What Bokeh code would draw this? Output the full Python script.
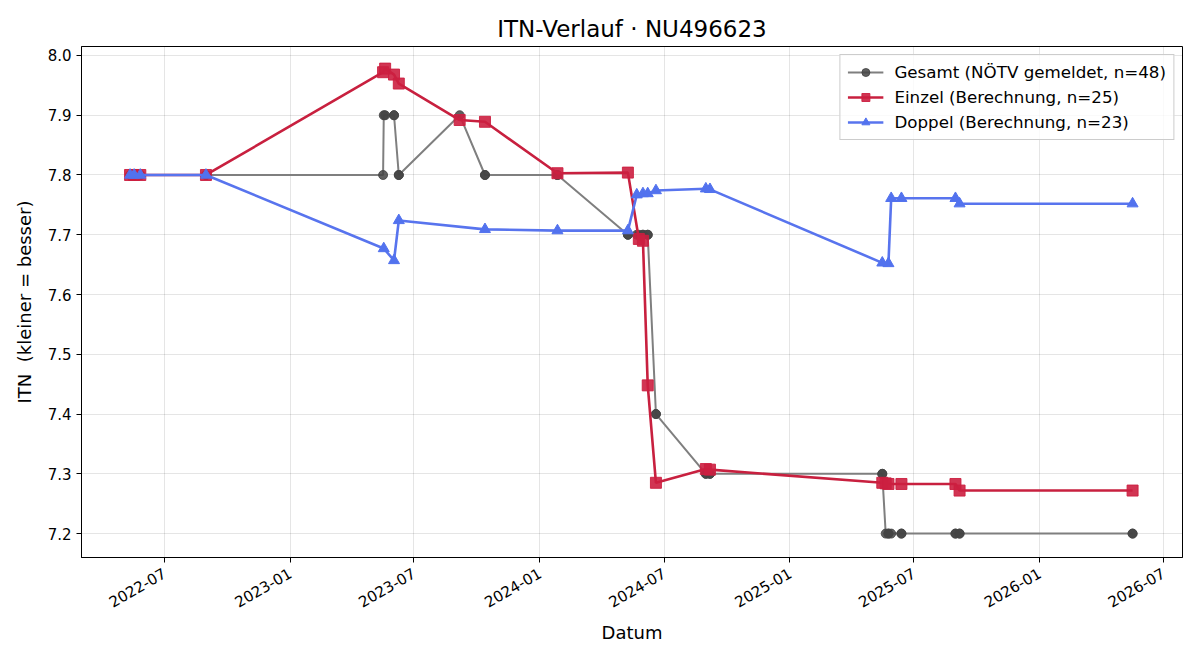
import math
import pandas as pd
from bokeh.plotting import figure
from bokeh.models import (ColumnDataSource, FixedTicker, DatetimeTickFormatter,
                          Range1d, NumeralTickFormatter)
from bokeh.embed import file_html
from bokeh.resources import INLINE

# --- Gesamt: reported ITN (NÖTV), one entry per match ---
gesamt_dates = [
    "2022-05-12", "2022-05-12", "2022-05-18", "2022-05-18", "2022-05-27", "2022-05-27",
    "2022-08-31", "2022-08-31", "2023-05-17", "2023-05-18", "2023-05-20",
    "2023-06-02", "2023-06-02", "2023-06-09", "2023-06-09", "2023-09-06",
    "2023-10-13", "2023-10-13", "2024-01-27", "2024-01-27", "2024-05-09", "2024-05-09",
    "2024-05-22", "2024-05-25", "2024-05-31", "2024-05-31", "2024-06-07", "2024-06-07",
    "2024-06-19", "2024-06-19", "2024-08-31", "2024-08-31", "2024-09-06", "2024-09-06",
    "2025-05-16", "2025-05-16", "2025-05-21", "2025-05-25", "2025-05-25", "2025-05-29",
    "2025-06-13", "2025-06-13", "2025-08-31", "2025-08-31", "2025-09-06", "2025-09-06",
    "2026-05-17", "2026-05-17",
]
gesamt_itn = [
    7.8, 7.8, 7.8, 7.8, 7.8, 7.8,
    7.8, 7.8, 7.8, 7.9, 7.9,
    7.9, 7.9, 7.8, 7.8, 7.9,
    7.8, 7.8, 7.8, 7.8, 7.7, 7.7,
    7.7, 7.7, 7.7, 7.7, 7.7, 7.7,
    7.4, 7.4, 7.3, 7.3, 7.3, 7.3,
    7.3, 7.3, 7.2, 7.2, 7.2, 7.2,
    7.2, 7.2, 7.2, 7.2, 7.2, 7.2,
    7.2, 7.2,
]

# --- Einzel: computed singles ITN ---
einzel_dates = [
    "2022-05-12", "2022-05-18", "2022-05-27", "2022-08-31",
    "2023-05-17", "2023-05-20", "2023-06-02", "2023-06-09",
    "2023-09-06", "2023-10-13", "2024-01-27", "2024-05-09",
    "2024-05-25", "2024-05-31", "2024-06-07", "2024-06-19",
    "2024-08-31", "2024-09-06", "2025-05-16", "2025-05-21",
    "2025-05-25", "2025-06-13", "2025-08-31", "2025-09-06",
    "2026-05-17",
]
einzel_itn = [
    7.800, 7.800, 7.800, 7.800,
    7.972, 7.978, 7.968, 7.953,
    7.892, 7.889, 7.803, 7.804,
    7.693, 7.690, 7.448, 7.285,
    7.308, 7.307, 7.285, 7.284,
    7.283, 7.283, 7.283, 7.272,
    7.272,
]

# --- Doppel: computed doubles ITN ---
doppel_dates = [
    "2022-05-12", "2022-05-18", "2022-05-27", "2022-08-31",
    "2023-05-18", "2023-06-02", "2023-06-09", "2023-10-13",
    "2024-01-27", "2024-05-09", "2024-05-22", "2024-05-31",
    "2024-06-07", "2024-06-19", "2024-08-31", "2024-09-06",
    "2025-05-16", "2025-05-25", "2025-05-29", "2025-06-13",
    "2025-08-31", "2025-09-06", "2026-05-17",
]
doppel_itn = [
    7.800, 7.800, 7.800, 7.800,
    7.677, 7.657, 7.724, 7.709,
    7.707, 7.707, 7.767, 7.769,
    7.769, 7.774, 7.777, 7.776,
    7.653, 7.652, 7.761, 7.761,
    7.761, 7.752, 7.752,
]

x_ticks = ["2022-07-01", "2023-01-01", "2023-07-01", "2024-01-01", "2024-07-01",
           "2025-01-01", "2025-07-01", "2026-01-01", "2026-07-01"]
y_ticks = [7.2, 7.3, 7.4, 7.5, 7.6, 7.7, 7.8, 7.9, 8.0]

FONT = "DejaVu Sans"


def ms(d):
    return pd.Timestamp(d).value / 1e6


src_g = ColumnDataSource(dict(x=pd.to_datetime(gesamt_dates), y=gesamt_itn))
src_e = ColumnDataSource(dict(x=pd.to_datetime(einzel_dates), y=einzel_itn))
src_d = ColumnDataSource(dict(x=pd.to_datetime(doppel_dates), y=doppel_itn))

p = figure(width=1200, height=660, output_backend="svg", toolbar_location=None,
           x_axis_type="datetime",
           x_range=Range1d(ms("2022-03-02"), ms("2026-07-29")),
           y_range=Range1d(7.160, 8.015),
           min_border_left=81, min_border_right=18, min_border_top=46,
           min_border_bottom=103)

p.title.text = "ITN-Verlauf · NU496623"
p.title.align = "center"
p.title.text_font = FONT
p.title.text_font_size = "23px"
p.title.text_font_style = "normal"
p.title.text_color = "#000000"

p.line("x", "y", source=src_g, color="#7f7f7f", line_width=2,
       legend_label="Gesamt (NÖTV gemeldet, n=48)")
p.scatter("x", "y", source=src_g, marker="circle", size=9,
          fill_color="#444444", line_color="#444444", fill_alpha=0.85, line_alpha=0.85,
          legend_label="Gesamt (NÖTV gemeldet, n=48)")

p.line("x", "y", source=src_e, color="#c8203f", line_width=2.6,
       legend_label="Einzel (Berechnung, n=25)")
p.scatter("x", "y", source=src_e, marker="square", size=11,
          fill_color="#cc1f40", line_color="#cc1f40", fill_alpha=0.9, line_alpha=0.9,
          legend_label="Einzel (Berechnung, n=25)")

p.line("x", "y", source=src_d, color="#5874ee", line_width=2.6,
       legend_label="Doppel (Berechnung, n=23)")
p.scatter("x", "y", source=src_d, marker="triangle", size=11,
          fill_color="#5272ee", line_color="#5272ee",
          legend_label="Doppel (Berechnung, n=23)")

# axes
p.xaxis.ticker = FixedTicker(ticks=[ms(t) for t in x_ticks])
p.xaxis.formatter = DatetimeTickFormatter(days="%Y-%m", months="%Y-%m", years="%Y-%m")
p.xaxis.major_label_orientation = math.pi / 6
p.yaxis.ticker = FixedTicker(ticks=y_ticks)
p.yaxis.formatter = NumeralTickFormatter(format="0.0")
p.xaxis.axis_label = "Datum"
p.yaxis.axis_label = "ITN\u00a0 (kleiner = besser)"

for ax in (p.xaxis, p.yaxis):
    ax.axis_label_text_font = FONT
    ax.axis_label_text_font_size = "18px"
    ax.axis_label_text_font_style = "normal"
    ax.axis_label_text_color = "#000000"
    ax.major_label_text_font = FONT
    ax.major_label_text_font_size = "15px"
    ax.major_label_text_color = "#000000"
    ax.axis_line_color = "#000000"
    ax.major_tick_line_color = "#000000"
    ax.major_tick_in = 0
    ax.major_tick_out = 5
    ax.minor_tick_line_color = None

p.xaxis.major_label_standoff = 9
p.xaxis.axis_label_standoff = 6
p.yaxis.axis_label_standoff = 10

p.outline_line_color = "#000000"
p.outline_line_width = 1
p.xgrid.grid_line_color = "#000000"
p.ygrid.grid_line_color = "#000000"
p.xgrid.grid_line_alpha = 0.1
p.ygrid.grid_line_alpha = 0.1

p.legend.location = "top_right"
p.legend.label_text_font = FONT
p.legend.label_text_font_size = "16.7px"
p.legend.label_text_color = "#000000"
p.legend.border_line_color = "#cccccc"
p.legend.border_line_alpha = 1
p.legend.background_fill_alpha = 0.8
p.legend.margin = 8
p.legend.padding = 7
p.legend.spacing = 5
p.legend.glyph_width = 36
p.legend.label_standoff = 11

open("out.html", "w").write(file_html(p, INLINE))
